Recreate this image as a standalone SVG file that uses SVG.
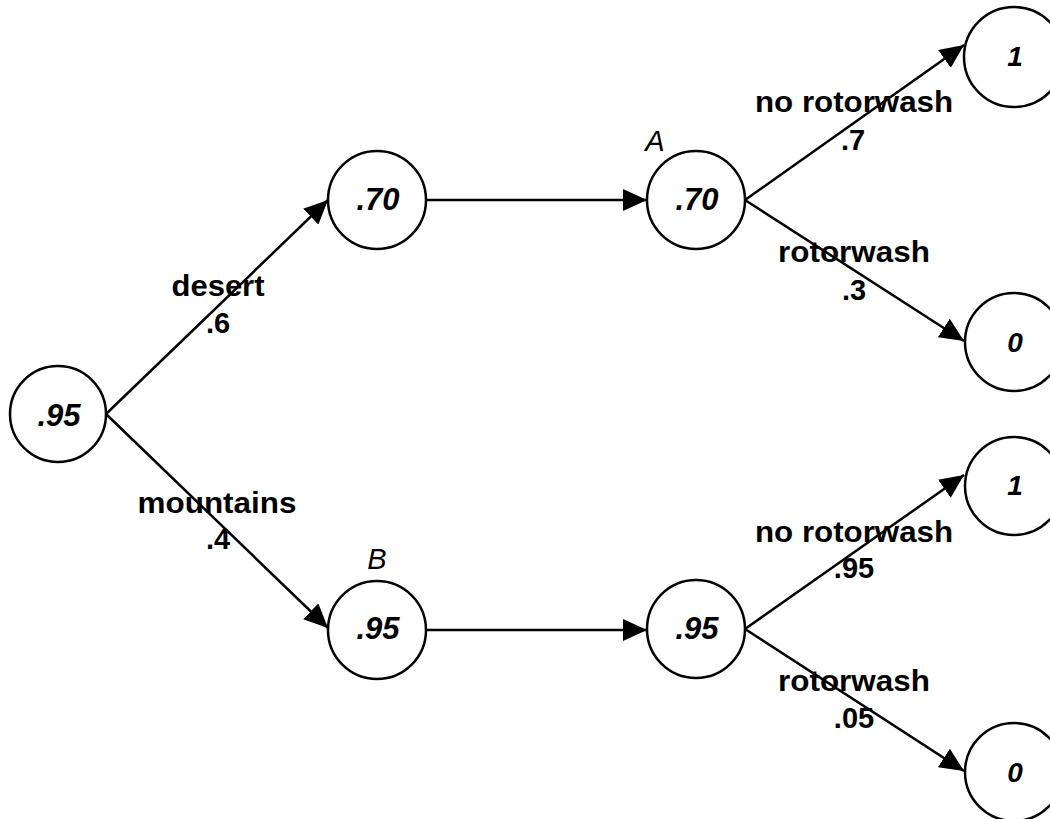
<svg xmlns="http://www.w3.org/2000/svg" width="1050" height="819" viewBox="0 0 1050 819">
  <defs>
    <marker id="arrow" markerUnits="userSpaceOnUse" markerWidth="24" markerHeight="22" refX="24" refY="11" orient="auto">
      <path d="M0,0 L24,11 L0,22 Z" fill="#000"/>
    </marker>
    <style>
      .node { fill: #fff; stroke: #000; stroke-width: 2.5; }
      .edge { stroke: #000; stroke-width: 2.5; fill: none; marker-end: url(#arrow); }
      .val { font-family: "Liberation Sans", Arial, sans-serif; font-weight: bold; font-style: italic; font-size: 31px; text-anchor: middle; }
      .leaf { font-family: "Liberation Sans", Arial, sans-serif; font-weight: bold; font-style: italic; font-size: 28px; text-anchor: middle; }
      .lbl { font-family: "Liberation Sans", Arial, sans-serif; font-weight: bold; font-size: 29px; text-anchor: middle; }
      .tag { font-family: "Liberation Sans", Arial, sans-serif; font-style: italic; font-size: 29px; text-anchor: middle; }
    </style>
  </defs>
  <rect width="1050" height="819" fill="#fff"/>

  <!-- connectors -->
  <g id="connectors">
    <line class="edge" x1="106" y1="414" x2="328" y2="200"/>
    <line class="edge" x1="106" y1="414" x2="328" y2="628"/>
    <line class="edge" x1="426" y1="200" x2="647" y2="200"/>
    <line class="edge" x1="426" y1="630" x2="647" y2="630"/>
    <line class="edge" x1="745" y1="200" x2="964" y2="45"/>
    <line class="edge" x1="745" y1="200" x2="964" y2="341"/>
    <line class="edge" x1="745" y1="629" x2="964" y2="475"/>
    <line class="edge" x1="745" y1="629" x2="964" y2="771"/>
  </g>

  <!-- branch labels -->
  <g id="labels">
    <text class="lbl" x="218" y="296" textLength="93" lengthAdjust="spacingAndGlyphs">desert</text>
    <text class="lbl" x="218" y="333">.6</text>
    <text class="lbl" x="217" y="513" textLength="159" lengthAdjust="spacingAndGlyphs">mountains</text>
    <text class="lbl" x="218" y="549">.4</text>
    <text class="lbl" x="854" y="112" textLength="198" lengthAdjust="spacingAndGlyphs">no rotorwash</text>
    <text class="lbl" x="853" y="150">.7</text>
    <text class="lbl" x="854" y="262" textLength="152" lengthAdjust="spacingAndGlyphs">rotorwash</text>
    <text class="lbl" x="854" y="300">.3</text>
    <text class="lbl" x="854" y="542" textLength="198" lengthAdjust="spacingAndGlyphs">no rotorwash</text>
    <text class="lbl" x="854" y="578">.95</text>
    <text class="lbl" x="854" y="691" textLength="152" lengthAdjust="spacingAndGlyphs">rotorwash</text>
    <text class="lbl" x="854" y="728">.05</text>
  </g>

  <!-- nodes -->
  <g id="root">
    <circle class="node" cx="58" cy="414" r="48"/>
    <text class="val" x="59" y="426">.95</text>
  </g>
  <g id="desert">
    <circle class="node" cx="377" cy="200" r="49"/>
    <text class="val" x="378" y="210">.70</text>
  </g>
  <g id="nodeA">
    <circle class="node" cx="696" cy="200" r="49"/>
    <text class="val" x="697" y="210">.70</text>
    <text class="tag" x="655" y="151">A</text>
  </g>
  <g id="mountains">
    <circle class="node" cx="377" cy="630" r="49"/>
    <text class="val" x="378" y="639">.95</text>
    <text class="tag" x="377" y="569">B</text>
  </g>
  <g id="nodeB2">
    <circle class="node" cx="696" cy="629" r="49"/>
    <text class="val" x="697" y="639">.95</text>
  </g>
  <g id="leafA1">
    <circle class="node" cx="1014" cy="57" r="50"/>
    <text class="leaf" x="1015" y="66">1</text>
  </g>
  <g id="leafA0">
    <circle class="node" cx="1014" cy="342" r="49"/>
    <text class="leaf" x="1015" y="352">0</text>
  </g>
  <g id="leafB1">
    <circle class="node" cx="1014" cy="486" r="49"/>
    <text class="leaf" x="1015" y="495">1</text>
  </g>
  <g id="leafB0">
    <circle class="node" cx="1014" cy="772" r="49"/>
    <text class="leaf" x="1015" y="782">0</text>
  </g>
</svg>
